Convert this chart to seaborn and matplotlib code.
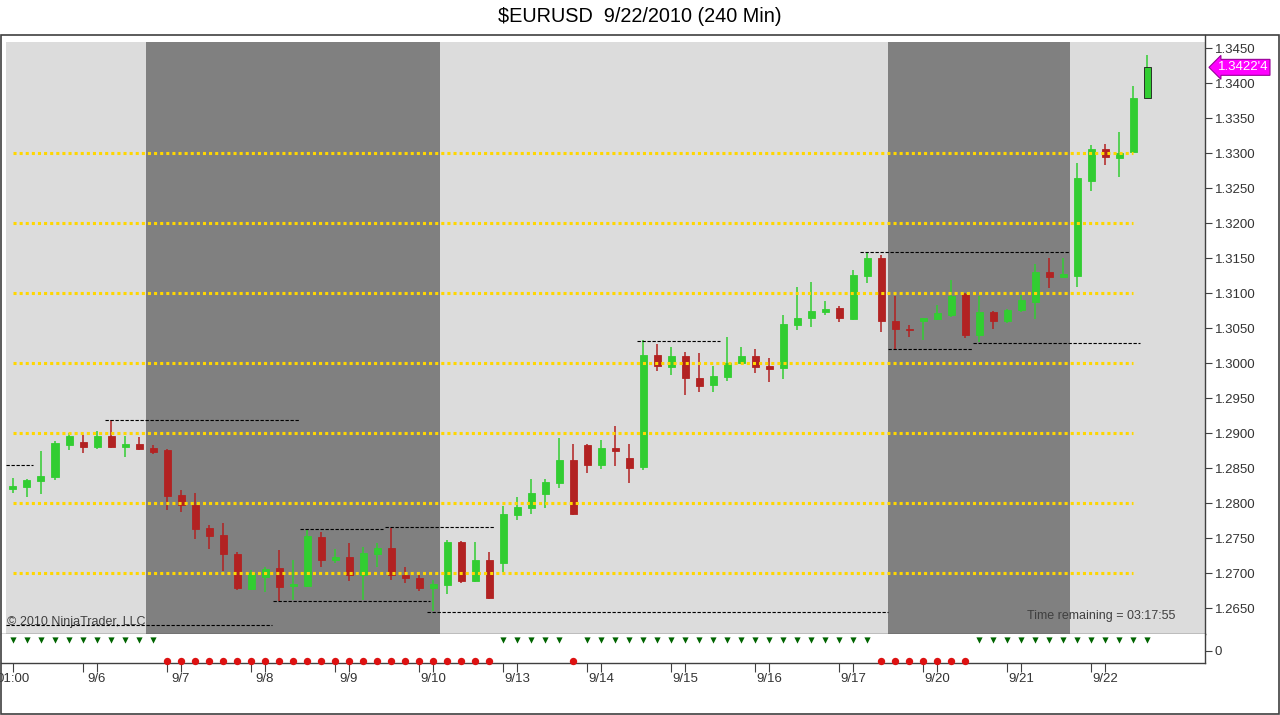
import numpy as np
import pandas as pd
import matplotlib
matplotlib.use("Agg")
import matplotlib.pyplot as plt
import seaborn as sns

# ---------------- data ----------------
opens = [1.2820, 1.2823, 1.2831, 1.2837, 1.2883, 1.2887, 1.2880, 1.2896, 1.2880, 1.2884,
         1.2879, 1.2876, 1.2811, 1.2797, 1.2764, 1.2754, 1.2727, 1.2677, 1.2694, 1.2707,
         1.2681, 1.2681, 1.2751, 1.2719, 1.2723, 1.2697, 1.2727, 1.2736, 1.2697, 1.2693,
         1.2679, 1.2683, 1.2744, 1.2689, 1.2719, 1.2714, 1.2783, 1.2793, 1.2813, 1.2829,
         1.2861, 1.2883, 1.2854, 1.2879, 1.2864, 1.2851, 1.3011, 1.2994, 1.3010, 1.2979,
         1.2969, 1.2980, 1.3000, 1.3010, 1.2996, 1.2993, 1.3054, 1.3064, 1.3073, 1.3079,
         1.3063, 1.3124, 1.3150, 1.3060, 1.3049, 1.3060, 1.3063, 1.3069, 1.3099, 1.3040,
         1.3073, 1.3060, 1.3076, 1.3087, 1.3130, 1.3123, 1.3124, 1.3260, 1.3306, 1.3293,
         1.3301, 1.3379]
highs = [1.2836, 1.2834, 1.2874, 1.2889, 1.2900, 1.2897, 1.2903, 1.2919, 1.2896, 1.2894,
         1.2883, 1.2877, 1.2819, 1.2814, 1.2769, 1.2771, 1.2730, 1.2704, 1.2709, 1.2733,
         1.2719, 1.2761, 1.2759, 1.2734, 1.2743, 1.2737, 1.2743, 1.2764, 1.2709, 1.2700,
         1.2690, 1.2747, 1.2746, 1.2744, 1.2730, 1.2796, 1.2809, 1.2834, 1.2834, 1.2893,
         1.2884, 1.2884, 1.2890, 1.2910, 1.2884, 1.3033, 1.3027, 1.3023, 1.3016, 1.3014,
         1.2996, 1.3037, 1.3023, 1.3020, 1.3007, 1.3069, 1.3109, 1.3116, 1.3089, 1.3081,
         1.3133, 1.3157, 1.3154, 1.3096, 1.3054, 1.3065, 1.3083, 1.3119, 1.3100, 1.3096,
         1.3074, 1.3077, 1.3097, 1.3141, 1.3150, 1.3150, 1.3286, 1.3311, 1.3313, 1.3330,
         1.3396, 1.3440]
lows = [1.2814, 1.2809, 1.2813, 1.2833, 1.2876, 1.2871, 1.2877, 1.2879, 1.2866, 1.2876,
        1.2870, 1.2790, 1.2787, 1.2749, 1.2734, 1.2703, 1.2676, 1.2676, 1.2673, 1.2660,
        1.2661, 1.2680, 1.2709, 1.2714, 1.2689, 1.2661, 1.2709, 1.2690, 1.2686, 1.2674,
        1.2646, 1.2670, 1.2686, 1.2687, 1.2663, 1.2701, 1.2776, 1.2784, 1.2793, 1.2821,
        1.2783, 1.2843, 1.2849, 1.2853, 1.2829, 1.2847, 1.2989, 1.2983, 1.2954, 1.2959,
        1.2959, 1.2974, 1.2999, 1.2986, 1.2973, 1.2977, 1.3047, 1.3051, 1.3069, 1.3059,
        1.3061, 1.3114, 1.3044, 1.3020, 1.3037, 1.3033, 1.3061, 1.3066, 1.3036, 1.3030,
        1.3049, 1.3057, 1.3073, 1.3063, 1.3107, 1.3121, 1.3109, 1.3246, 1.3283, 1.3266,
        1.3300, 1.3378]
closes = [1.2824, 1.2833, 1.2839, 1.2886, 1.2896, 1.2880, 1.2896, 1.2880, 1.2884, 1.2877,
          1.2873, 1.2810, 1.2797, 1.2763, 1.2753, 1.2727, 1.2679, 1.2700, 1.2706, 1.2680,
          1.2684, 1.2753, 1.2719, 1.2723, 1.2697, 1.2729, 1.2736, 1.2697, 1.2693, 1.2679,
          1.2684, 1.2744, 1.2689, 1.2719, 1.2664, 1.2784, 1.2794, 1.2814, 1.2830, 1.2861,
          1.2784, 1.2854, 1.2879, 1.2874, 1.2850, 1.3011, 1.2996, 1.3010, 1.2979, 1.2967,
          1.2981, 1.3000, 1.3010, 1.2994, 1.2991, 1.3056, 1.3064, 1.3074, 1.3077, 1.3064,
          1.3126, 1.3150, 1.3060, 1.3049, 1.3047, 1.3064, 1.3071, 1.3096, 1.3040, 1.3073,
          1.3060, 1.3076, 1.3090, 1.3130, 1.3123, 1.3127, 1.3264, 1.3306, 1.3294, 1.3300,
          1.3379, 1.34224]

# indicator signal (+1 green triangle, -1 red dot)
signal = ([1] * 11 + [-1] * 24 + [1] * 5 + [-1] + [1] * 21 + [-1] * 7 + [1] * 13)

# x-axis day labels (bar index -> label)
day_ticks = [0, 6, 12, 18, 24, 30, 36, 42, 48, 54, 60, 66, 72, 78]
day_labels = ["01:00", "9/6", "9/7", "9/8", "9/9", "9/10", "9/13", "9/14",
              "9/15", "9/16", "9/17", "9/20", "9/21", "9/22"]
minor_ticks = [5, 11, 17, 23, 29, 35, 41, 47, 53, 59, 65, 71, 77]

# session shading boundaries (bar units) – dark = weekend/closed sessions
session_edges = [-0.5, 9.5, 30.5, 62.5, 75.5, 86.0]
session_dark = [False, True, False, True, False]

# yellow round-number levels
round_levels = [1.27, 1.28, 1.29, 1.30, 1.31, 1.32, 1.33]
round_start, round_end = 0, 80

# black dashed prior high / low lines: (start bar, end bar, price)
hl_start = [-0.5, 6.6, -0.5, 20.5, 26.6, 18.6, 29.6, 44.6, 60.5, 62.5, 68.6]
hl_end = [1.4, 20.5, 18.5, 26.4, 34.4, 29.8, 62.5, 50.5, 75.5, 68.5, 80.5]
hl_price = [1.2854, 1.2919, 1.2626, 1.2763, 1.2766, 1.2660, 1.2644, 1.3031,
            1.3159, 1.3020, 1.3029]

price_ticks = np.round(np.arange(1.2650, 1.34501, 0.0050), 4)

df = pd.DataFrame({"bar": np.arange(len(opens)), "open": opens, "high": highs,
                   "low": lows, "close": closes, "signal": signal})

# ---------------- style ----------------
sns.set_theme(style="white")
plt.rcParams["font.family"] = ["Liberation Sans", "DejaVu Sans"]

GREEN = "#32CD32"
RED = "#B22222"
LIGHT = "#DCDCDC"
DARK = "#808080"
FRAME = "#404040"
TXT = "#333333"

W, H = 1280, 715
fig = plt.figure(figsize=(W / 100, H / 100), dpi=100)
fig.patch.set_facecolor("white")

ax = fig.add_axes([1 / W, 81 / H, 1204 / W, 599 / H])
axi = fig.add_axes([1 / W, 52 / H, 1204 / W, 29 / H])

xmin, xmax = -0.857, 85.14
ymin, ymax = 1.26129, 1.34686
shade_top = 1.34586

for a in (ax, axi):
    a.set_xlim(xmin, xmax)
    a.set_facecolor("white")
    for s in a.spines.values():
        s.set_color(FRAME)
        s.set_linewidth(1.0)
    a.spines["left"].set_visible(False)
    a.spines["top"].set_visible(False)
ax.set_ylim(ymin, ymax)

# session shading
for x0, x1, dark in zip(session_edges[:-1], session_edges[1:], session_dark):
    ax.fill_between([x0, x1], ymin, shade_top, color=DARK if dark else LIGHT,
                    lw=0, zorder=0)

# candles
up = df["close"] >= df["open"]
colors = np.where(up, GREEN, RED)
ax.vlines(df["bar"], df["low"], df["high"], colors=colors, lw=1.1, zorder=3)
body_h = np.maximum((df["close"] - df["open"]).abs(), 0.00018)
body_b = np.minimum(df["open"], df["close"])
edge = list(colors)
edge[-1] = "#1a1a1a"
ax.bar(df["bar"], body_h, bottom=body_b, width=0.5, color=colors,
       edgecolor=edge, linewidth=0.6, zorder=4)

# yellow dotted levels
ax.hlines(round_levels, round_start, round_end, colors="#FFD700", lw=2.2,
          linestyles=[(0, (1, 1))], zorder=5)

# black dashed high/low lines
ax.hlines(hl_price, hl_start, hl_end, colors="black", lw=0.8,
          linestyles=[(0, (3, 1.5))], zorder=6)

# y axis on right
ax.yaxis.tick_right()
ax.set_yticks(price_ticks)
ax.set_yticklabels([f"{v:.4f}" for v in price_ticks])
ax.tick_params(axis="y", which="both", direction="out", length=5, width=0.8,
               color=FRAME, labelsize=9.5, labelcolor=TXT, pad=2, right=True, left=False)
ax.tick_params(axis="x", which="both", bottom=False, labelbottom=False)
ax.set_xlabel("")
ax.set_ylabel("")

# texts in price panel
ax.text(6 / 1204, 12 / 599, "\u00a9 2010 NinjaTrader, LLC", transform=ax.transAxes,
        ha="left", va="center", fontsize=9, color=FRAME, zorder=2)
ax.text(1174 / 1204, 18 / 599, "Time remaining = 03:17:55", transform=ax.transAxes,
        ha="right", va="center", fontsize=9, color=FRAME, zorder=2)

# last price marker
last = df["close"].iloc[-1]
s = f"{last:.5f}"
last_lbl = s[:-1] + "'" + s[-1]
ax.annotate(last_lbl, xy=(1, last), xycoords=ax.get_yaxis_transform(),
            xytext=(9, 0), textcoords="offset points", ha="left", va="center",
            color="white", fontsize=9.5, annotation_clip=False,
            bbox=dict(boxstyle="larrow,pad=0.15", fc="#FF00FF", ec="#990099", lw=0.8))

# indicator panel
axi.set_ylim(-1.19, 1.571)
sns.scatterplot(data=df[df["signal"] > 0], x="bar", y="signal", marker="v",
                color="#006400", s=20, linewidth=0, ax=axi, clip_on=False, zorder=3)
sns.scatterplot(data=df[df["signal"] < 0], x="bar", y="signal", marker="o",
                color="#DD1111", s=28, linewidth=0, ax=axi, clip_on=False, zorder=3)
axi.set_xlabel("")
axi.set_ylabel("")
axi.yaxis.tick_right()
axi.set_yticks([0])
axi.set_yticklabels(["0"])
axi.tick_params(axis="y", direction="out", length=5, width=0.8, color=FRAME,
                labelsize=9.5, labelcolor=TXT, pad=2, right=True, left=False)
axi.set_xticks(day_ticks)
axi.set_xticklabels(day_labels)
axi.set_xticks(minor_ticks, minor=True)
axi.tick_params(axis="x", which="both", direction="out", length=6.5, width=0.8,
                color=FRAME, labelsize=9.5, labelcolor=TXT, pad=1, bottom=True)
axi.set_xlim(xmin, xmax)

# outer frame
fig.add_artist(plt.Rectangle((1 / W, 1 / H), 1278 / W, 679 / H, fill=False,
                             ec=FRAME, lw=1.2, transform=fig.transFigure))

# title
fig.text(0.5, 1 - 17 / H, "$EURUSD  9/22/2010 (240 Min)", ha="center", va="center",
         fontsize=14.3, color="black")

fig.savefig("out.png", dpi=100)
